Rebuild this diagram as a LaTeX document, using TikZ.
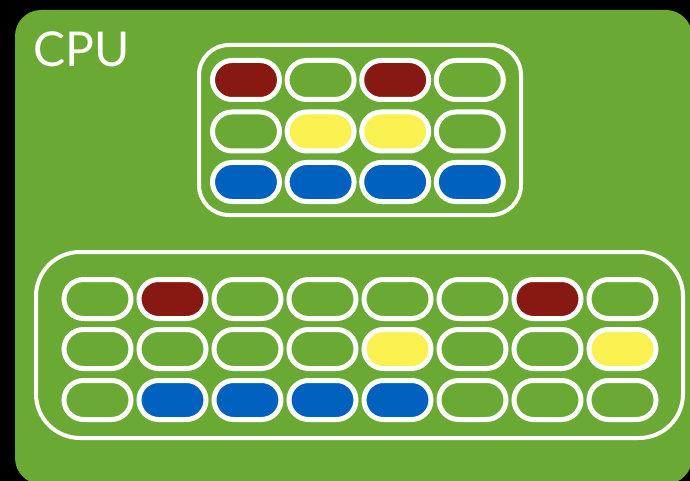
\documentclass[tikz,border=0pt]{standalone}
\usepackage{fontspec}
\setmainfont{Lato}
\usetikzlibrary{shapes.misc}
\definecolor{cpugreen}{HTML}{6AAA34}
\definecolor{cellred}{HTML}{871812}
\definecolor{cellyellow}{HTML}{F8F150}
\definecolor{cellblue}{HTML}{0061BF}
\tikzset{
  pill/.style={rounded rectangle, draw=white, line width=5pt, minimum width=67pt, minimum height=39pt, inner sep=0pt, fill=cpugreen},
  bank/.style={draw=white, line width=4pt},
}
\begin{document}
\begin{tikzpicture}[x=1pt,y=-1pt]
\useasboundingbox (0,0) rectangle (690,481);
\fill[black] (0,0) rectangle (690,481);
\fill[cpugreen, rounded corners=26pt] (15,10) rectangle (692,484);
\node[anchor=base west, inner sep=0pt, text=white, font=\fontsize{48}{48}\selectfont] (cpu) at (33,67) {CPU};
% top bank
\draw[bank, rounded corners=30pt] (199,45) rectangle (521,215);
% bottom bank
\draw[bank, rounded corners=44pt] (36,252) rectangle (683,438);
% top cells
\foreach \r/\y/\cols in {1/80/{cellred,cpugreen,cellred,cpugreen},2/131.5/{cpugreen,cellyellow,cellyellow,cpugreen},3/182/{cellblue,cellblue,cellblue,cellblue}}{
  \foreach \c [count=\i from 0] in \cols {
    \node[pill, fill=\c] (t\r\i) at ({246+74.6*\i},\y) {};
  }
}
% bottom cells
\foreach \r/\y/\cols in {1/299/{cpugreen,cellred,cpugreen,cpugreen,cpugreen,cpugreen,cellred,cpugreen},2/349/{cpugreen,cpugreen,cpugreen,cpugreen,cellyellow,cpugreen,cpugreen,cellyellow},3/400/{cpugreen,cellblue,cellblue,cellblue,cellblue,cpugreen,cpugreen,cpugreen}}{
  \foreach \c [count=\i from 0] in \cols {
    \node[pill, fill=\c] (b\r\i) at ({97.5+75*\i},\y) {};
  }
}
\end{tikzpicture}
\end{document}
